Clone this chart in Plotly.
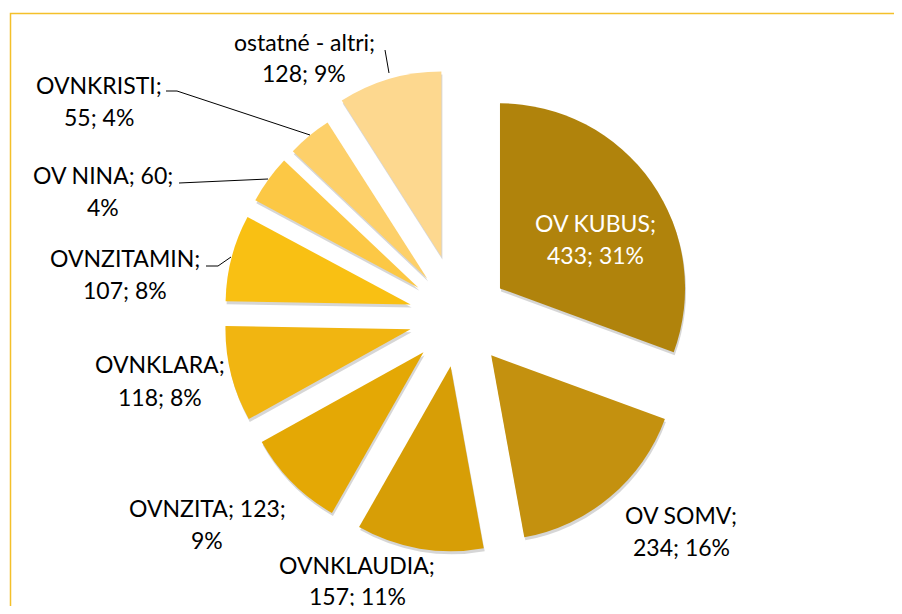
import plotly.graph_objects as go

labels = ["OV KUBUS", "OV SOMV", "OVNKLAUDIA", "OVNZITA", "OVNKLARA",
          "OVNZITAMIN", "OV NINA", "OVNKRISTI", "ostatné - altri"]
values = [433, 234, 157, 123, 118, 107, 60, 55, 128]
percents = [31, 16, 11, 9, 8, 8, 4, 4, 9]
colors = ["#B0830C", "#C4910F", "#D79E06", "#E4A805", "#F1B511",
          "#F9C013", "#FCC845", "#FDD06A", "#FDD88F"]
pulls = [0.27, 0.27, 0.27, 0.27, 0.27, 0.27, 0.27, 0.27, 0.34]

# the page body adds an 8px margin, so the figure is drawn 8px in
OFF = 8
W, H = 886, 598

# label lines: x centre, y of first line, y of second line (page pixels)
label_pos = [(595, 223, 255), (681, 515, 547), (357, 565, 596),
             (207, 508, 540), (160, 364, 397), (125, 258, 290),
             (103, 175, 207), (99, 85, 117), (304, 42, 73)]
label_break = [0, 0, 0, 1, 0, 0, 1, 0, 0]
leaders = [
    [(385, 50), (389, 73)],
    [(166, 91), (177, 91), (310, 135)],
    [(179, 183), (268, 179)],
    [(206, 266), (218, 266), (231, 257)],
]


def px(x, y):
    return (x - OFF) / W, 1 - (y - OFF) / H


pie_x = [(211 - OFF) / W, (707 - OFF) / W]
pie_y = [1 - (565 - OFF) / H, 1 - (69 - OFF) / H]

fig = go.Figure()

# soft shadow under the slices
fig.add_trace(go.Pie(
    labels=labels, values=values, sort=False, direction="clockwise",
    pull=pulls, textinfo="none", hoverinfo="skip",
    marker=dict(colors=["rgba(0,0,0,0.16)"] * len(values), line=dict(width=0)),
    domain=dict(x=[pie_x[0] + 1 / W, pie_x[1] + 1 / W],
                y=[pie_y[0] - 3 / H, pie_y[1] - 3 / H]),
    showlegend=False,
))

fig.add_trace(go.Pie(
    labels=labels, values=values, sort=False, direction="clockwise",
    pull=pulls, textinfo="none",
    marker=dict(colors=colors, line=dict(width=0)),
    domain=dict(x=pie_x, y=pie_y),
    showlegend=False,
))

for i, (lab, val, pct) in enumerate(zip(labels, values, percents)):
    if label_break[i]:
        lines = [f"{lab}; {val};", f"{pct}%"]
    else:
        lines = [f"{lab};", f"{val}; {pct}%"]
    cx, y1, y2 = label_pos[i]
    for line, ly in zip(lines, (y1, y2)):
        x, y = px(cx, ly)
        fig.add_annotation(
            x=x, y=y, xref="paper", yref="paper", text=line, showarrow=False,
            xanchor="center", yanchor="middle",
            font=dict(family="Lato", size=23,
                      color="white" if i == 0 else "black"),
        )

for pts in leaders:
    path = "M " + " L ".join(f"{px(x, y)[0]},{px(x, y)[1]}" for x, y in pts)
    fig.add_shape(type="path", path=path, xref="paper", yref="paper",
                  line=dict(color="black", width=1))

# chart area border (runs off the right and bottom edges)
bx, by = px(10.5, 13.5)
fig.add_shape(type="rect", xref="paper", yref="paper",
              x0=bx, y0=-0.1, x1=1.1, y1=by,
              line=dict(color="#F4C02A", width=1.5))

fig.update_layout(
    width=W, height=H,
    margin=dict(l=0, r=0, t=0, b=0),
    paper_bgcolor="white",
    plot_bgcolor="white",
)

fig.write_html("out.html")
